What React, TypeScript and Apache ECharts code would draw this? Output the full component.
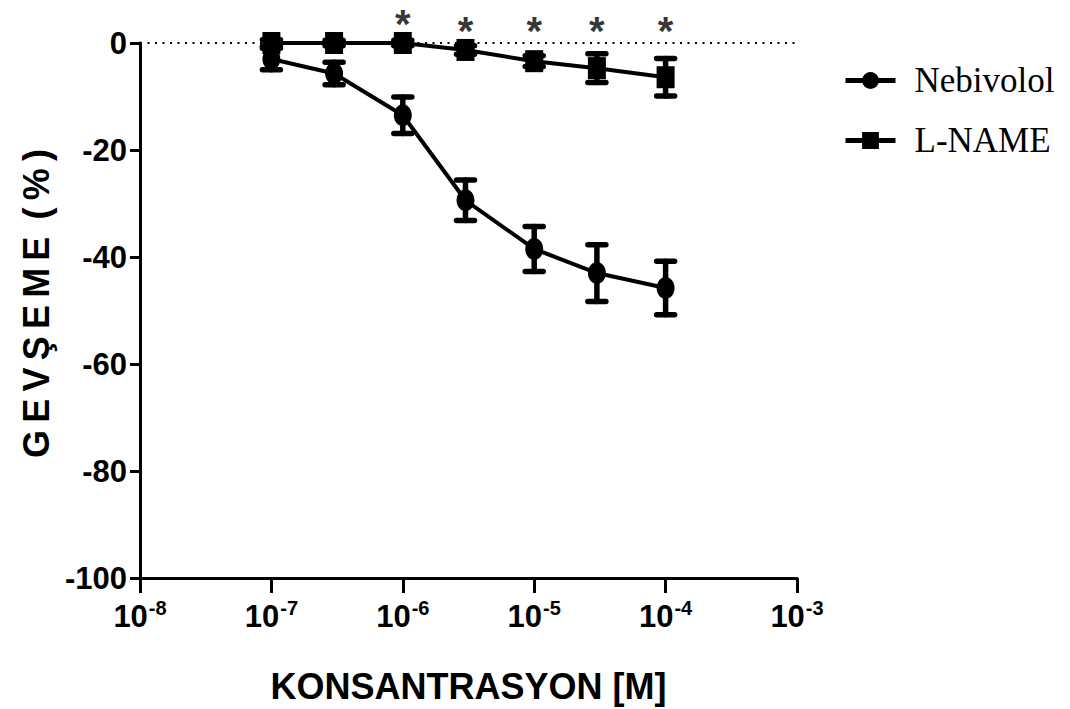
import React, { useEffect, useRef } from "react";
import * as echarts from "echarts";

const concentrations = [1e-7, 3e-7, 1e-6, 3e-6, 1e-5, 3e-5, 1e-4];
const nebivololMean = [-3.0, -5.7, -13.5, -29.4, -38.5, -43.0, -45.8];
const nebivololErr = [2.0, 2.1, 3.4, 3.8, 4.2, 5.3, 5.0];
const lnameMean = [0, 0, 0, -1.3, -3.4, -4.7, -6.4];
const lnameErr = [0.6, 0.5, 0.5, 0.8, 1.0, 2.7, 3.5];
const starConcentrations = [1e-6, 3e-6, 1e-5, 3e-5, 1e-4];
const starLevels = [3.6, 2.3, 2.3, 2.3, 2.3];
const xExponentTicks = [-8, -7, -6, -5, -4, -3];
const yTicks = [-100, -80, -60, -40, -20, 0];

const SANS = "Liberation Sans, Arial, sans-serif";

function toPoints(means: number[]) {
  return concentrations.map((c, i) => [Math.log10(c), means[i]]);
}

function errData(means: number[], errs: number[]) {
  return concentrations.map((c, i) => [Math.log10(c), means[i] - errs[i], means[i] + errs[i]]);
}

function errorBarSeries(name: string, means: number[], errs: number[]) {
  return {
    type: "custom",
    name: name + "-err",
    data: errData(means, errs),
    z: 3,
    clip: false,
    renderItem: (params: any, api: any) => {
      const x = api.value(0);
      const lo = api.coord([x, api.value(1)]);
      const hi = api.coord([x, api.value(2)]);
      const hw = 9;
      const style = { stroke: "#000", lineWidth: 5.5, lineCap: "round" };
      return {
        type: "group",
        children: [
          { type: "line", shape: { x1: lo[0], y1: lo[1], x2: hi[0], y2: hi[1] }, style },
          { type: "line", shape: { x1: lo[0] - hw, y1: lo[1], x2: lo[0] + hw, y2: lo[1] }, style },
          { type: "line", shape: { x1: hi[0] - hw, y1: hi[1], x2: hi[0] + hw, y2: hi[1] }, style },
        ],
      };
    },
  };
}

export default function App() {
  const ref = useRef<HTMLDivElement>(null);
  useEffect(() => {
    if (!ref.current) return;
    const chart = echarts.init(ref.current, null, { renderer: "svg" });
    const option = {
      animation: false,
      backgroundColor: "#fff",
      grid: { left: 140, top: 43, right: 273, bottom: 131, containLabel: false },
      legend: {
        orient: "vertical",
        left: 838,
        top: 58,
        itemWidth: 50,
        itemHeight: 21,
        itemGap: 25,
        data: ["Nebivolol", "L-NAME"],
        lineStyle: { width: 5, color: "#000" },
        itemStyle: { color: "#000" },
        textStyle: {
          fontFamily: "Liberation Serif, Times New Roman, serif",
          fontSize: 35,
          color: "#000",
          padding: [0, 0, 0, 14],
        },
      },
      xAxis: {
        type: "value",
        min: xExponentTicks[0],
        max: xExponentTicks[xExponentTicks.length - 1],
        interval: 1,
        axisLine: { show: true, onZero: false, lineStyle: { color: "#000", width: 3 } },
        axisTick: { show: true, length: 15, lineStyle: { color: "#000", width: 3 } },
        splitLine: { show: false },
        axisLabel: {
          margin: 20,
          color: "#000",
          fontSize: 31,
          fontWeight: "bold",
          fontFamily: SANS,
          formatter: (v: number) => "{base|10}{sup|" + v + "}",
          rich: {
            base: { fontSize: 31, fontWeight: "bold", fontFamily: SANS, color: "#000", lineHeight: 34 },
            sup: { fontSize: 20, fontWeight: "bold", fontFamily: SANS, color: "#000", padding: [0, 0, 16, 1] },
          },
        },
        name: "KONSANTRASYON [M]",
        nameLocation: "middle",
        nameGap: 90,
        nameTextStyle: { fontSize: 36, fontWeight: "bold", fontFamily: SANS, color: "#000" },
      },
      yAxis: {
        type: "value",
        min: yTicks[0],
        max: yTicks[yTicks.length - 1],
        interval: 20,
        axisLine: { show: true, onZero: false, lineStyle: { color: "#000", width: 3 } },
        axisTick: { show: true, length: 10, lineStyle: { color: "#000", width: 3 } },
        splitLine: { show: false },
        axisLabel: {
          margin: 13,
          color: "#000",
          fontSize: 31,
          fontWeight: "bold",
          fontFamily: SANS,
        },
        name: "G\u2009E\u2009V\u2009Ş\u2009E\u2009M\u2009E\u2009 (\u2009%\u2009)",
        nameLocation: "middle",
        nameRotate: 90,
        nameGap: 84,
        nameTextStyle: { fontSize: 36, fontWeight: "bold", fontFamily: SANS, color: "#000", padding: [0, 0, 0, 14] },
      },
      series: [
        {
          type: "line",
          name: "Nebivolol",
          data: toPoints(nebivololMean),
          symbol: "circle",
          symbolSize: [18, 22],
          lineStyle: { color: "#000", width: 4 },
          itemStyle: { color: "#000" },
          z: 4,
          markLine: {
            silent: true,
            symbol: "none",
            label: { show: false },
            lineStyle: { color: "#000", type: [2, 5.5], width: 2 },
            data: [{ yAxis: 0 }],
            z: 1,
          },
        },
        {
          type: "line",
          name: "L-NAME",
          data: toPoints(lnameMean),
          symbol: "rect",
          symbolSize: [18, 22],
          lineStyle: { color: "#000", width: 4 },
          itemStyle: { color: "#000" },
          z: 5,
        },
        errorBarSeries("Nebivolol", nebivololMean, nebivololErr),
        errorBarSeries("L-NAME", lnameMean, lnameErr),
        {
          type: "scatter",
          name: "stars",
          data: starConcentrations.map((c, i) => [Math.log10(c), starLevels[i]]),
          symbolSize: 1,
          itemStyle: { color: "rgba(0,0,0,0)" },
          clip: false,
          silent: true,
          label: {
            show: true,
            position: "inside",
            formatter: "*",
            fontSize: 40,
            fontWeight: "bold",
            fontFamily: SANS,
            color: "#000",
          },
        },
      ],
    };
    chart.setOption(option as any);
    return () => chart.dispose();
  }, []);
  return <div ref={ref} style={{ position: "fixed", left: 0, top: 0, width: 1070, height: 709, background: "#fff" }} />;
}
